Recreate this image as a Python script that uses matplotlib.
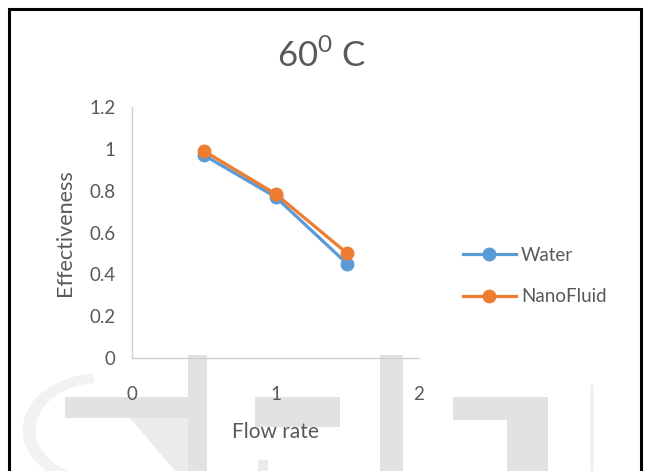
import matplotlib
matplotlib.use('Agg')
import matplotlib.pyplot as plt
from matplotlib.patches import Rectangle, Polygon, Wedge

plt.rcParams['font.family'] = ['Lato', 'DejaVu Sans']

flow_rate = [0.5, 1.0, 1.5]
water = [0.97, 0.77, 0.45]
nanofluid = [0.99, 0.785, 0.50]
series_names = ['Water', 'NanoFluid']
yticks = [0, 0.2, 0.4, 0.6, 0.8, 1, 1.2]
xticks = [0, 1, 2]

text_grey = '#595959'
blue = '#5B9BD5'
orange = '#ED7D31'

W, H = 645, 471
fig = plt.figure(figsize=(6.45, 4.71), dpi=100)

def px(x, y):
    return x / W, 1 - y / H

# faint background lettering behind the chart
wm = '#e2e2e2'
def box(x0, y0, x1, y1, c=wm):
    fig.patches.append(Rectangle(px(x0, y1), (x1 - x0) / W, (y1 - y0) / H,
                                 transform=fig.transFigure, color=c, lw=0, zorder=-5))
fig.patches.append(Wedge(px(100, 430), 0.12, 95, 265, width=0.02,
                         transform=fig.transFigure, color='#f2f2f2', lw=0, zorder=-5))
box(65, 397, 200, 418)
fig.patches.append(Polygon([px(130, 418), px(200, 418), px(205, 471), px(175, 471)],
                           closed=True, transform=fig.transFigure, color='#ebebeb', lw=0, zorder=-5))
box(188, 355, 207, 471)
box(255, 397, 340, 427)
box(258, 460, 268, 471, '#ebebeb')
box(380, 355, 403, 471)
box(453, 397, 548, 420)
box(507, 397, 548, 471)
box(590, 385, 594, 471, '#f2f2f2')

ax = fig.add_axes([132 / W, 1 - 358 / H, (419 - 132) / W, (358 - 107) / H])
ax.patch.set_alpha(0)

ax.plot(flow_rate, water, color=blue, lw=2.3, marker='o', ms=9, label=series_names[0])
ax.plot(flow_rate, nanofluid, color=orange, lw=2.3, marker='o', ms=9, label=series_names[1])

ax.set_xlim(0, 2)
ax.set_ylim(0, 1.2)
ax.set_xticks(xticks)
ax.set_yticks(yticks)
ax.set_xticklabels([str(t) for t in xticks])
ax.set_yticklabels(['0', '0.2', '0.4', '0.6', '0.8', '1', '1.2'])
ax.tick_params(length=0, labelsize=13.5, colors=text_grey, pad=12)
ax.tick_params(axis='x', pad=20)
for side in ['top', 'right']:
    ax.spines[side].set_visible(False)
for side in ['left', 'bottom']:
    ax.spines[side].set_color('#d0d0d0')
    ax.spines[side].set_linewidth(1)

ax.set_xlabel('Flow rate', fontsize=15, color=text_grey, labelpad=14)
ax.set_ylabel('Effectiveness', fontsize=15.5, color=text_grey, labelpad=10)

fig.text(322 / W, 1 - 55 / H, r'60$^{\mathregular{0}}$ C', fontsize=25, color=text_grey,
         ha='center', va='center')

ax.legend(loc='center left', bbox_to_anchor=(463 / W, 1 - 276 / H),
          bbox_transform=fig.transFigure, frameon=False, fontsize=13.5,
          handlelength=2.8, labelspacing=1.3, handletextpad=0.3, labelcolor=text_grey,
          borderaxespad=0, borderpad=0)

# chart frame
fig.patches.append(Rectangle(px(9, 500), (641 - 9) / W, (500 - 9) / H,
                             transform=fig.transFigure, fill=False, ec='black', lw=2.2, zorder=5))

fig.savefig('out.png', dpi=100)
